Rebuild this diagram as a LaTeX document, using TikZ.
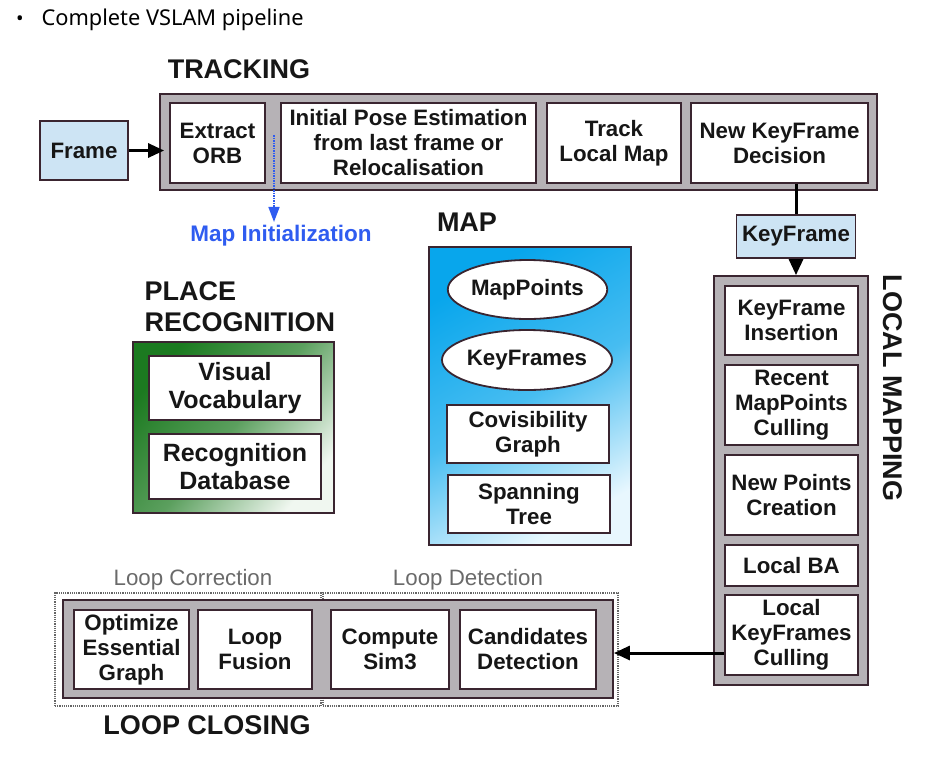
\documentclass[tikz,border=0pt]{standalone}
\usepackage{fontspec}
\setmainfont{Liberation Sans}
\newfontfamily\slidefont{Noto Sans}
\usepackage{tikz}
\usetikzlibrary{shapes.geometric,arrows.meta}
\definecolor{bordo}{HTML}{3A2530}
\definecolor{grigio}{HTML}{B6B2B6}
\definecolor{celeste}{HTML}{CDE4F4}
\definecolor{ciano}{HTML}{08A6EC}
\definecolor{cianochiaro}{HTML}{E8F7FE}
\definecolor{verde}{HTML}{1C7A20}
\definecolor{verdechiaro}{HTML}{F0F7F0}
\definecolor{blumap}{HTML}{2F5CF0}
\definecolor{testo}{HTML}{161616}
\definecolor{etich}{HTML}{6A6A6A}
\newcommand{\procfont}{\fontsize{22.3}{25}\selectfont\bfseries}
\newcommand{\bigprocfont}{\fontsize{25}{27.5}\selectfont\bfseries}
\newcommand{\ttlfont}{\fontsize{27}{31}\selectfont\bfseries}

\begin{document}
\begin{tikzpicture}[x=1pt,y=-1pt,
    stage/.style={draw=bordo, line width=1.8pt, fill=grigio},
    proc/.style={draw=bordo, line width=1.8pt, fill=white, align=center,
        inner sep=0pt, font=\procfont, text=testo},
    oval/.style={proc, ellipse},
    ttl/.style={font=\ttlfont, text=testo},
    sub/.style={draw=black!60, densely dotted, line width=1.2pt},
    sublbl/.style={font=\fontsize{22.3}{26}\selectfont, text=etich},
    flow/.style={draw=black, line width=3pt, -{Triangle[length=16pt,width=14pt]}}]
    \useasboundingbox (0,0) rectangle (944,758);
    % Titolo slide
    \node[font=\slidefont\fontsize{20}{24}\selectfont] (dot) at (20,21) {•};
    \node[font=\slidefont\fontsize{21.8}{26}\selectfont, anchor=west] (heading) at (38,20) {Complete VSLAM pipeline};
    % Tracking
    \node[ttl] (tracktitle) at (239,69) {TRACKING};
    \node[stage, minimum width=717, minimum height=96] (track) at (518.5,142) {};
    \node[proc, minimum width=95, minimum height=80] (orb) at (217.5,143) {Extract\\ORB};
    \node[proc, minimum width=255, minimum height=80] (pose) at (408.5,143) {Initial Pose Estimation\\from last frame or\\Relocalisation};
    \node[proc, minimum width=134, minimum height=80] (tlm) at (614,143) {Track\\Local Map};
    \node[proc, minimum width=177, minimum height=80] (kfdec) at (779.5,143) {New KeyFrame\\Decision};
    \node[proc, fill=celeste, minimum width=88, minimum height=59] (frame) at (84,150.5) {Frame};
    \draw[flow, shorten >=-5pt] (frame.east) -- (frame.east -| track.west);
    % Map initialization
    \coordinate (initsrc) at (274,135);
    \node[font=\fontsize{22.5}{26}\selectfont\bfseries, text=blumap] (mapinit) at (281,236) {Map Initialization};
    \draw[blumap, densely dotted, line width=1.5pt, -{Triangle[length=15pt,width=11pt]}]
        (initsrc) -- (initsrc |- mapinit.north);
    % KeyFrame
    \node[proc, fill=celeste, minimum width=119, minimum height=43] (kf) at (796,236.5) {KeyFrame};
    \draw[line width=3pt] (kfdec.south -| kf.north) -- (kf.north);
    % Local mapping
    \node[stage, minimum width=154, minimum height=409] (lmap) at (791,480.5) {};
    \draw[flow] (kf.south) -- (kf.south |- lmap.north);
    \node[ttl, rotate=-90] (lmtitle) at (893,388) {LOCAL MAPPING};
    \node[proc, minimum width=133, minimum height=69] (kfins) at (791.5,320.5) {KeyFrame\\Insertion};
    \node[proc, minimum width=133, minimum height=80] (cull) at (791.5,405) {Recent\\MapPoints\\Culling};
    \node[proc, minimum width=133, minimum height=80] (newpts) at (791.5,495) {New Points\\Creation};
    \node[proc, minimum width=133, minimum height=41] (lba) at (791.5,565.5) {Local BA};
    \node[proc, minimum width=133, minimum height=80] (lkfc) at (791.5,635) {Local\\KeyFrames\\Culling};
    % Map
    \node[ttl] (maptitle) at (467,222) {MAP};
    \node[draw=bordo, line width=1.8pt, top color=ciano, bottom color=cianochiaro,
        middle color=ciano!72!cianochiaro, shading angle=30,
        minimum width=202, minimum height=298] (map) at (530,396) {};
    \node[oval, minimum width=155, minimum height=59] (mpts) at (527.5,289.5) {MapPoints};
    \node[oval, minimum width=154, minimum height=60] (kfs) at (527,360) {KeyFrames};
    \node[proc, minimum width=162, minimum height=58] (covis) at (528,434) {Covisibility\\Graph};
    \node[proc, minimum width=162, minimum height=58] (span) at (529,504) {Spanning\\Tree};
    % Place recognition
    \node[ttl, anchor=west, align=left] (prtitle) at (141,307) {PLACE\\RECOGNITION};
    \node[draw=bordo, line width=1.8pt, top color=verde, bottom color=verdechiaro,
        middle color=verde!70!verdechiaro, shading angle=50,
        minimum width=201, minimum height=171] (place) at (233.5,427.5) {};
    \node[proc, font=\bigprocfont, minimum width=172, minimum height=64] (vocab) at (235,388) {Visual\\Vocabulary};
    \node[proc, font=\bigprocfont, minimum width=172, minimum height=65] (recdb) at (235,466.5) {Recognition\\Database};
    % Loop closing
    \node[sub, minimum width=266, minimum height=113] (corr) at (188,649.5) {};
    \node[sub, minimum width=295, minimum height=113] (detect) at (470.5,649.5) {};
    \node[sublbl] (corrlbl) at (193,580) {Loop Correction};
    \node[sublbl] (detlbl) at (468,580) {Loop Detection};
    \node[stage, minimum width=550, minimum height=98] (loopc) at (338,649) {};
    \node[proc, minimum width=115, minimum height=79] (essg) at (131.5,649.5) {Optimize\\Essential\\Graph};
    \node[proc, minimum width=114, minimum height=79] (fusion) at (255,649.5) {Loop\\Fusion};
    \node[proc, minimum width=118, minimum height=79] (sim3) at (390,649.5) {Compute\\Sim3};
    \node[proc, minimum width=136, minimum height=79] (cand) at (528,649.5) {Candidates\\Detection};
    \node[ttl] (lctitle) at (207,725) {LOOP CLOSING};
    \draw[flow] ([yshift=-18pt]lkfc.west) -- ([yshift=-18pt]lkfc.west -| loopc.east);
\end{tikzpicture}
\end{document}
